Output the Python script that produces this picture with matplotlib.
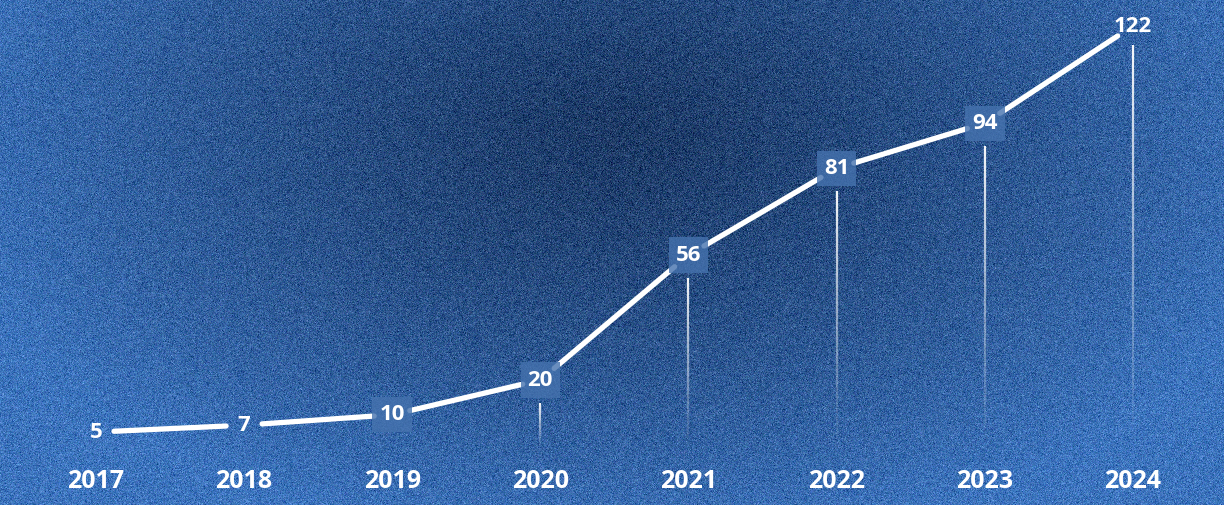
import numpy as np
import matplotlib
matplotlib.use("Agg")
import matplotlib.pyplot as plt
from matplotlib.collections import LineCollection
from matplotlib.colors import to_rgb

years = ["2017", "2018", "2019", "2020", "2021", "2022", "2023", "2024"]
values = [5, 7, 10, 20, 56, 81, 94, 122]
boxed = [False, False, True, True, True, True, True, False]

plt.rcParams["font.family"] = ["Open Sans", "DejaVu Sans"]

fig = plt.figure(figsize=(12.24, 5.05), dpi=100)
ax = fig.add_axes([0, 0, 1, 1])
ax.set_xlim(-0.648, 7.616)
ax.set_ylim(-16.0, 129.5)
ax.axis("off")

# background: dark centre, lighter edges, grainy
h, w = 505, 1224
yy, xx = np.mgrid[0:h, 0:w]
r = np.sqrt(((xx - 620) / 700.0) ** 2 + ((yy - 130) / 420.0) ** 2)
t = np.clip(r, 0, 1) ** 1.2
dark = np.array(to_rgb("#1d3a66"))
light = np.array(to_rgb("#3d74bd"))
img = dark + (light - dark) * t[..., None]
rng = np.random.default_rng(3)
grain = rng.normal(0, 0.06, (h, w, 1)) + rng.normal(0, 0.02, (h, w, 3))
img = np.clip(img + grain, 0, 1)
ax.imshow(img, extent=(-0.648, 7.616, -16.0, 129.5), aspect="auto", zorder=0,
          interpolation="bilinear")

x = np.arange(len(years))

# fading drop lines under the upper points
bottom = 0.4
for xi, v, b in zip(x, values, boxed):
    if v < 15:
        continue
    top = v - 5.5 if v > 100 else v - 6.5
    ys = np.linspace(top, bottom, 60)
    segs = [[(xi, ys[k]), (xi, ys[k + 1])] for k in range(len(ys) - 1)]
    alphas = np.linspace(0.95, 0.0, len(segs))
    cols = [(1, 1, 1, a) for a in alphas]
    ax.add_collection(LineCollection(segs, colors=cols, linewidths=1.6, zorder=2))

# main line, trimmed around the labels
for i in range(len(x) - 1):
    ax.annotate("", xy=(x[i + 1], values[i + 1]), xytext=(x[i], values[i]),
                arrowprops=dict(arrowstyle="-", color="white", lw=3.8,
                                shrinkA=13, shrinkB=13),
                zorder=3)

for xi, v, b in zip(x, values, boxed):
    kw = {}
    if b:
        kw["bbox"] = dict(boxstyle="square,pad=0.32", fc="#4572ae", ec="none", alpha=0.8)
    ax.text(xi, v, str(v), ha="center", va="center", color="white",
            fontsize=16, fontweight="bold", zorder=4, **kw)

for xi, yr in zip(x, years):
    ax.text(xi, -9.1, yr, ha="center", va="center", color="white",
            fontsize=18, fontweight="bold", zorder=4)

fig.savefig("out.png", dpi=100)
